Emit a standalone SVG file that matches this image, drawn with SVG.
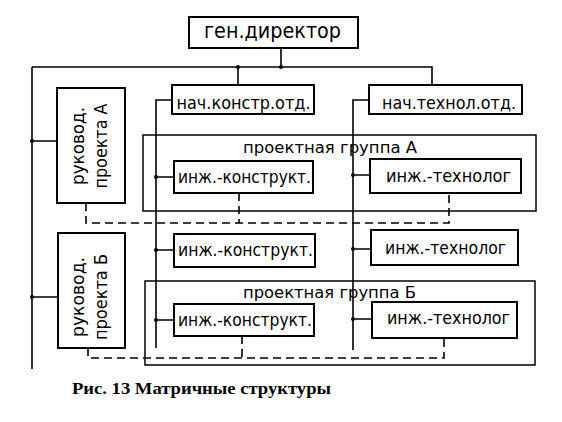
<svg xmlns="http://www.w3.org/2000/svg" width="562" height="422" viewBox="0 0 562 422">
<style>
.box{fill:#fff;stroke:#000;stroke-width:2}
.grp{fill:none;stroke:#000;stroke-width:1.5}
.ln{fill:none;stroke:#000;stroke-width:1.6}
.dash{fill:none;stroke:#000;stroke-width:1.6;stroke-dasharray:8,5}
.t{font-family:"DejaVu Sans",sans-serif;font-size:18px;fill:#000;text-anchor:middle}
.g{font-size:15.5px}
.big{font-size:22px}
.dot{fill:#000}
</style>
<rect width="562" height="422" fill="#fff"/>
<g id="connectors">
<path class="ln" d="M281,48 V67 M32,67 H432 V85 M238,67 V85 M32,67 V369 M32,141 H57 M32,297 H58"/>
<path class="ln" d="M172,100 H156 V348 M156,177 H174 M156,250 H174 M156,320 H174"/>
<path class="ln" d="M369,100 H353 V350 M353,175 H370 M353,249 H371 M353,319 H372"/>
<path class="dash" d="M86,203 V223 H449 V193 M239,193 V223"/>
<path class="dash" d="M88,348 V358 H444 V338 M242,336 V358"/>
<circle class="dot" cx="281" cy="67" r="2"/>
<circle class="dot" cx="238" cy="67" r="2"/>
<circle class="dot" cx="32" cy="141" r="2"/>
<circle class="dot" cx="32" cy="297" r="2"/>
<circle class="dot" cx="156" cy="177" r="2"/>
<circle class="dot" cx="156" cy="250" r="2"/>
<circle class="dot" cx="156" cy="320" r="2"/>
<circle class="dot" cx="353" cy="175" r="2"/>
<circle class="dot" cx="353" cy="249" r="2"/>
<circle class="dot" cx="353" cy="319" r="2"/>
</g>
<g id="group-a"><rect class="grp" x="143" y="135" width="393" height="76"/><text class="t g" x="330" y="153" textLength="174" lengthAdjust="spacingAndGlyphs">проектная группа А</text></g>
<g id="group-b"><rect class="grp" x="145" y="281" width="390" height="84"/><text class="t g" x="329.5" y="298" textLength="173" lengthAdjust="spacingAndGlyphs">проектная группа Б</text></g>
<g id="gen"><rect class="box" x="189" y="17" width="169" height="31"/><text class="t big" x="272.5" y="38" textLength="137" lengthAdjust="spacingAndGlyphs">ген.директор</text></g>
<g id="nach-konstr"><rect class="box" x="172" y="85" width="142" height="29"/><text class="t" x="243.5" y="109" textLength="134" lengthAdjust="spacingAndGlyphs">нач.констр.отд.</text></g>
<g id="nach-tehnol"><rect class="box" x="369" y="85" width="153" height="29"/><text class="t" x="449" y="109" textLength="134" lengthAdjust="spacingAndGlyphs">нач.технол.отд.</text></g>
<g id="ruk-a"><rect class="box" x="57" y="88" width="68" height="115"/><text class="t" transform="translate(0,146) rotate(-90)"><tspan x="0" y="84" textLength="78" lengthAdjust="spacingAndGlyphs">руковод.</tspan><tspan x="0" y="107" textLength="85" lengthAdjust="spacingAndGlyphs">проекта А</tspan></text></g>
<g id="ruk-b"><rect class="box" x="58" y="233" width="67" height="115"/><text class="t" transform="translate(0,297) rotate(-90)"><tspan x="0" y="84" textLength="80" lengthAdjust="spacingAndGlyphs">руковод.</tspan><tspan x="0" y="107" textLength="86" lengthAdjust="spacingAndGlyphs">проекта Б</tspan></text></g>
<g id="ink-a"><rect class="box" x="174" y="161" width="139" height="32"/><text class="t" x="244.5" y="183" textLength="133" lengthAdjust="spacingAndGlyphs">инж.-конструкт.</text></g>
<g id="int-a"><rect class="box" x="370" y="159" width="151" height="34"/><text class="t" x="448.5" y="182" textLength="125" lengthAdjust="spacingAndGlyphs">инж.-технолог</text></g>
<g id="ink-m"><rect class="box" x="174" y="234" width="141" height="33"/><text class="t" x="245.5" y="256" textLength="135" lengthAdjust="spacingAndGlyphs">инж.-конструкт.</text></g>
<g id="int-m"><rect class="box" x="371" y="230" width="147" height="35"/><text class="t" x="445.5" y="254" textLength="121" lengthAdjust="spacingAndGlyphs">инж.-технолог</text></g>
<g id="ink-b"><rect class="box" x="174" y="304" width="140" height="32"/><text class="t" x="245" y="326" textLength="134" lengthAdjust="spacingAndGlyphs">инж.-конструкт.</text></g>
<g id="int-b"><rect class="box" x="372" y="302" width="145" height="36"/><text class="t" x="448.5" y="324" textLength="123" lengthAdjust="spacingAndGlyphs">инж.-технолог</text></g>
<text x="72" y="394" font-family="Liberation Serif,serif" font-weight="bold" font-size="17.5" fill="#000" textLength="259" lengthAdjust="spacingAndGlyphs">Рис. 13 Матричные структуры</text>
</svg>
